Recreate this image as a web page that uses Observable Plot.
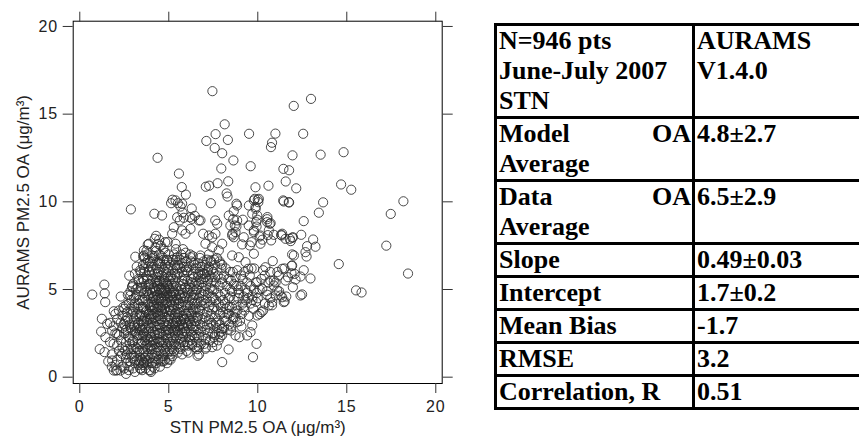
<!DOCTYPE html>
<html><head><meta charset="utf-8">
<script src="https://cdn.jsdelivr.net/npm/d3@7"></script>
<script src="https://cdn.jsdelivr.net/npm/@observablehq/plot@0.6"></script>
<style>
html,body{margin:0;padding:0;background:#fff;}
body{width:859px;height:440px;overflow:hidden;position:relative;}
#chart{position:absolute;left:0;top:0;}
#tbl{position:absolute;left:494px;top:23px;border-collapse:collapse;table-layout:fixed;width:430px;font-family:"Liberation Serif","Times New Roman",serif;font-weight:bold;font-size:26px;line-height:30px;color:#000;}
#tbl td{border:3px solid #000;padding:0 1px 0 2px;vertical-align:top;overflow:hidden;}
#tbl td.c1{text-align:justify;}
</style>
</head><body>
<div id="chart"></div>
<table id="tbl"><colgroup><col style="width:198px"><col style="width:232px"></colgroup><tbody id="tb"></tbody></table>
<script>
// ---- Scatter data: STN PM2.5 OA (x) vs AURAMS PM2.5 OA (y), µg/m³ ----
const outerPoints = [
[7.45,16.31],[12.99,15.87],[12.02,15.47],[8.14,14.42],[9.51,13.88],[7.63,13.86],[10.99,13.89],[12.55,13.88],[7.11,13.47],[8.32,13.53],
[7.58,13.07],[10.74,13.12],[10.8,13.37],[4.37,12.51],[8.0,12.77],[11.95,12.65],[13.53,12.69],[14.82,12.83],[8.63,12.36],[7.95,11.9],
[9.6,12.03],[5.57,11.61],[11.44,11.88],[11.76,11.8],[11.57,11.16],[5.73,10.84],[7.08,10.86],[7.27,10.92],[7.74,11.06],[8.34,11.17],
[9.87,10.83],[10.6,10.92],[12.16,10.77],[14.68,10.99],[15.25,10.69],[5.96,10.41],[8.25,10.48],[8.3,10.3],[7.36,9.92],[11.46,10.02],
[11.76,9.96],[13.67,9.97],[18.18,10.03],[2.87,9.57],[4.19,9.32],[4.62,9.22],[17.47,9.31],[13.43,9.38],[17.22,7.5],[14.55,6.45],
[18.44,5.91],[15.52,4.95],[15.83,4.83],[0.7,4.71],[1.38,5.28],[1.4,4.78],[1.43,4.28],[1.24,3.33],[1.2,2.6],[1.12,1.6],
[3.12,6.87],[2.78,5.79],[12.44,8.12],[13.11,7.85],[13.24,7.44],[12.77,7.47],[12.68,7.13],[12.74,6.88],[12.58,6.1],[12.96,5.63],
[12.49,4.72],[12.58,8.9],[11.94,7.95],[11.85,7.76],[11.34,8.08],[10.54,9.13],[10.72,8.78],[10.03,9.98],[9.88,9.6],[12.03,6.94],
[11.9,6.35],[12.07,5.89],[12.12,5.57],[11.51,4.32],[8.0,0.86],[9.73,1.14],[9.93,1.9],[8.36,1.58],[6.62,1.22],[2.6,0.19],[2.04,0.38]
];
const midPoints = [
[5.21,10.12],[5.38,10.08],[5.13,9.92],[5.51,9.92],[6.29,9.62],[5.66,9.73],[5.77,9.39],[5.84,9.09],[5.62,8.94],[6.18,9.12],
[6.46,9.2],[6.78,8.94],[6.93,8.18],[7.44,7.98],[7.61,8.94],[8.62,9.01],[8.65,9.47],[9.16,8.98],[8.8,8.59],[8.58,8.18],
[8.65,7.98],[9.78,10.08],[10.0,10.12],[9.87,9.7],[9.69,9.32],[9.97,8.98],[9.93,8.59],[9.78,8.37],[10.53,9.01],[10.67,8.75],
[10.56,8.1],[10.1,8.02],[10.9,8.12],[11.31,8.12],[11.8,7.89],[11.97,7.98],[10.75,7.8],[10.26,7.84],[9.65,7.7],[9.12,7.57],
[3.82,7.57],[4.21,7.89],[4.29,8.06],[4.46,7.84],[3.56,6.88],[3.82,6.66],[8.8,9.89],[9.83,10.17],[10.06,10.17],[11.43,10.08],
[11.74,9.98],[8.84,9.79],[9.5,9.79],[9.97,9.22],[9.91,8.84],[10.53,8.84],[10.62,8.37],[11.37,8.18],[11.56,7.89],[11.93,7.0],
[10.84,6.62],[11.93,6.37],[11.89,5.93],[12.4,5.74],[11.37,6.18],[11.18,5.8],[11.56,5.51],[10.43,6.27],[10.39,5.8],[10.71,5.51],
[9.97,5.42],[10.25,5.04],[10.53,4.7],[10.9,5.23],[11.09,4.94],[11.37,4.56],[11.97,5.13],[8.84,8.94],[8.71,8.65],[8.75,8.27],
[8.56,8.08],[8.37,9.22],[8.46,8.65],[9.49,8.65],[9.78,8.27],[9.21,7.98],[10.15,8.08],[10.15,7.61],[9.55,7.51],[9.78,7.04],
[9.31,6.56],[9.46,6.18],[8.93,6.84],[8.56,6.94],[7.72,8.75],[7.62,8.18],[7.25,8.08],[6.69,8.94],[6.31,9.03],[6.22,8.46],
[7.06,7.61],[7.44,7.41],[7.81,7.23],[8.0,7.61],[6.78,6.94],[7.34,6.66],[7.9,6.47],[6.22,6.84],[6.03,6.27],
[8.75,2.38],[8.97,2.28],[9.4,2.38],[9.59,2.57],[9.69,2.95],[8.5,2.66],[9.08,2.89],[8.84,3.14],[8.65,3.42],[8.37,3.62],
[9.97,3.52],[10.21,3.71],[10.62,4.09],[10.81,4.28],[11.46,4.28],[11.28,4.66],[11.0,4.66],[12.4,4.66],[7.44,1.71],[7.06,1.62],
[6.69,1.71],[6.31,1.81],[7.53,2.28],[7.81,2.47],[8.0,2.76],[3.6,6.94],[4.07,6.94],[4.94,7.7],[5.38,7.61],[3.88,7.61],
[3.6,7.23],[5.47,9.12],[5.75,8.37],[5.94,8.18],[5.28,8.55],[5.19,8.18],[5.75,9.89],[3.41,5.99],[3.31,5.51],[3.88,6.08],
[2.94,5.13],[2.85,4.66],[4.35,5.33],[4.72,5.51],[5.1,5.7],[4.53,6.47],[4.91,6.66],[5.47,6.84],[1.91,3.76],[1.54,3.04],
[1.44,2.28],[1.82,2.66],[2.1,2.47],[1.39,1.43],[1.82,0.95],[1.91,0.38],[2.29,0.38],[2.1,1.81],[2.38,1.33],[2.66,3.42],
[2.47,3.04],[2.85,2.85],[3.41,0.48],[3.97,0.38],[3.6,0.86]
];
const corePoints = [
[1.6,0.9],[1.7,2.0],[1.8,1.3],[1.9,2.9],[2.0,3.6],[2.1,1.0],[2.2,2.4],[2.3,3.1],[2.4,1.7],[1.7,3.1],[2.0,0.7],[2.2,1.5],[2.4,0.6],[2.3,2.1],[2.1,3.3],[1.9,1.9],[2.4,2.8],[2.2,3.8],[2.0,2.5],[1.8,0.6],[2.3,1.2],[2.4,3.5],[2.1,0.4],[2.45,4.0],[2.3,4.6],
[2.5,0.5],[2.6,1.1],[2.7,1.6],[2.8,2.2],[2.9,2.7],[2.55,3.2],[2.65,3.7],[2.75,4.2],[2.85,4.9],[2.95,5.2],[2.6,2.0],[2.7,2.6],[2.8,3.0],[2.9,1.3],[2.55,1.5],[2.65,0.8],[2.75,0.4],[2.85,0.9],[2.95,3.6],[2.5,2.5],[2.6,4.1],[2.7,3.3],[2.8,1.9],[2.9,4.4],[2.55,2.9],[2.65,1.3],[2.75,2.3],[2.85,3.9],[2.95,2.0],[2.5,3.9],[2.7,4.7],[2.8,0.6],[2.9,1.6],[2.6,2.7],[2.95,1.1],
[3.0,0.5],[3.1,0.9],[3.2,1.4],[3.3,1.9],[3.4,2.4],[3.05,2.9],[3.15,3.4],[3.25,3.9],[3.35,4.4],[3.45,4.9],[3.0,5.3],[3.1,5.9],[3.2,6.3],[3.3,5.6],[3.4,6.1],[3.05,1.2],[3.15,1.7],[3.25,2.2],[3.35,2.7],[3.45,3.2],[3.0,3.7],[3.1,4.2],[3.2,4.7],[3.3,0.7],[3.4,1.1],[3.05,4.0],[3.15,2.5],[3.25,3.0],[3.35,3.5],[3.45,4.0],[3.0,2.1],[3.1,2.6],[3.2,1.0],[3.3,3.1],[3.4,0.5],[3.05,3.3],[3.15,4.6],[3.25,5.1],[3.35,1.5],[3.45,1.9],[3.1,0.3],[3.2,2.8],[3.3,4.2],[3.4,2.8],[3.45,5.4],[3.0,1.6],[3.25,1.6],[3.35,0.9],[3.15,5.0],[3.4,3.6],[3.1,3.0],[3.45,0.8],[3.2,3.6],[3.3,2.4],[3.05,4.5],
[3.5,0.4],[3.6,0.8],[3.7,1.2],[3.8,1.6],[3.9,2.0],[3.55,2.4],[3.65,2.8],[3.75,3.2],[3.85,3.6],[3.95,4.0],[3.5,4.4],[3.6,4.8],[3.7,5.2],[3.8,5.6],[3.9,6.0],[3.55,6.4],[3.65,6.8],[3.75,7.2],[3.85,4.6],[3.95,5.0],[3.5,1.0],[3.6,1.4],[3.7,1.8],[3.8,2.2],[3.9,2.6],[3.55,3.0],[3.65,3.4],[3.75,3.8],[3.85,4.2],[3.95,1.1],[3.5,2.0],[3.6,2.5],[3.7,0.5],[3.8,0.9],[3.9,0.4],[3.55,1.6],[3.65,2.1],[3.75,2.6],[3.85,3.0],[3.95,3.4],[3.5,3.5],[3.6,3.9],[3.7,4.3],[3.8,4.9],[3.9,5.3],[3.55,5.6],[3.65,6.0],[3.75,1.0],[3.85,1.3],[3.95,1.7],[3.5,5.1],[3.6,5.5],[3.7,3.7],[3.8,3.3],[3.9,2.9],[3.55,4.0],[3.65,4.5],[3.75,4.9],[3.85,5.3],[3.95,2.3],[3.5,2.7],[3.6,3.2],[3.7,2.3],[3.8,1.9],[3.9,3.6],[3.55,0.7],[3.65,1.1],[3.75,5.8],[3.85,6.3],[3.95,6.6],[3.6,6.2],[3.9,4.7],[3.7,6.5],[3.8,7.0],
[4.0,0.3],[4.1,0.6],[4.2,0.9],[4.3,1.2],[4.4,1.5],[4.05,1.8],[4.15,2.1],[4.25,2.4],[4.35,2.7],[4.45,3.0],[4.0,3.3],[4.1,3.6],[4.2,3.9],[4.3,4.2],[4.4,4.5],[4.05,4.8],[4.15,5.1],[4.25,5.4],[4.35,5.7],[4.45,6.0],[4.0,6.3],[4.1,6.6],[4.2,6.9],[4.3,7.2],[4.4,7.6],[4.05,0.8],[4.15,1.1],[4.25,1.4],[4.35,1.7],[4.45,2.0],[4.0,2.3],[4.1,2.6],[4.2,2.9],[4.3,3.2],[4.4,3.5],[4.05,3.8],[4.15,4.1],[4.25,4.4],[4.35,4.7],[4.45,5.0],[4.0,5.3],[4.1,5.6],[4.2,5.9],[4.3,6.2],[4.4,6.5],[4.05,1.3],[4.15,1.6],[4.25,1.9],[4.35,2.2],[4.45,2.5],[4.0,2.8],[4.1,3.1],[4.2,3.4],[4.3,3.7],[4.4,4.0],[4.05,4.3],[4.15,4.6],[4.25,4.9],[4.35,5.2],[4.45,5.5],[4.0,4.0],[4.1,4.5],[4.2,0.5],[4.3,0.8],[4.4,1.0],[4.05,6.0],[4.15,6.8],[4.25,7.4],[4.35,6.6],[4.45,7.0],[4.0,1.6],[4.1,2.0],[4.2,2.5],[4.3,2.9],[4.4,3.3],[4.05,3.5],[4.15,4.0],[4.25,4.6],[4.35,3.9],[4.45,4.4],[4.2,5.0],[4.3,5.5],[4.4,5.9],
[4.5,0.6],[4.6,0.9],[4.7,1.2],[4.8,1.5],[4.9,1.8],[4.55,2.1],[4.65,2.4],[4.75,2.7],[4.85,3.0],[4.95,3.3],[4.5,3.6],[4.6,3.9],[4.7,4.2],[4.8,4.5],[4.9,4.8],[4.55,5.1],[4.65,5.4],[4.75,5.7],[4.85,6.0],[4.95,6.3],[4.5,6.6],[4.6,6.9],[4.7,7.3],[4.8,7.7],[4.55,1.0],[4.65,1.3],[4.75,1.6],[4.85,1.9],[4.95,2.2],[4.5,2.5],[4.6,2.8],[4.7,3.1],[4.8,3.4],[4.9,3.7],[4.55,4.0],[4.65,4.3],[4.75,4.6],[4.85,4.9],[4.95,5.2],[4.5,5.5],[4.6,5.8],[4.7,6.1],[4.8,6.4],[4.9,6.7],[4.55,1.5],[4.65,1.8],[4.75,2.1],[4.85,2.4],[4.95,2.7],[4.5,3.0],[4.6,3.3],[4.7,3.6],[4.8,3.9],[4.9,4.2],[4.55,4.5],[4.65,4.8],[4.75,5.1],[4.85,5.4],[4.95,5.7],[4.5,4.8],[4.6,5.0],[4.7,0.9],[4.8,1.0],[4.9,0.8],[4.55,3.3],[4.65,2.0],[4.75,3.9],[4.85,4.3],[4.95,4.6],[4.5,2.0],[4.6,6.3],[4.7,6.7],[4.8,7.1],[4.9,2.9],[4.55,7.5],[4.65,3.7],[4.75,4.9],[4.85,2.6],[4.95,1.4],[4.6,4.5],[4.8,5.0],[4.9,5.3],
[5.0,1.0],[5.1,1.3],[5.2,1.6],[5.3,1.9],[5.4,2.2],[5.05,2.5],[5.15,2.8],[5.25,3.1],[5.35,3.4],[5.45,3.7],[5.0,4.0],[5.1,4.3],[5.2,4.6],[5.3,4.9],[5.4,5.2],[5.05,5.5],[5.15,5.8],[5.25,6.1],[5.35,6.4],[5.45,6.7],[5.0,7.0],[5.05,1.6],[5.15,1.9],[5.25,2.2],[5.35,2.5],[5.45,2.8],[5.0,3.1],[5.1,3.4],[5.2,3.7],[5.3,4.0],[5.4,4.3],[5.05,4.6],[5.15,4.9],[5.25,5.2],[5.35,5.5],[5.45,5.8],[5.0,6.1],[5.1,6.4],[5.2,6.7],[5.3,7.0],[5.4,7.3],[5.05,2.0],[5.15,2.3],[5.25,2.6],[5.35,2.9],[5.45,3.2],[5.0,3.5],[5.1,3.8],[5.2,4.1],[5.3,4.4],[5.4,4.7],[5.05,5.0],[5.15,5.3],[5.25,5.6],[5.35,5.9],[5.45,6.2],[5.0,2.7],[5.1,1.0],[5.2,1.2],[5.3,1.5],[5.4,1.8],[5.05,3.8],[5.15,4.4],[5.25,4.8],[5.35,3.6],[5.45,4.5],[5.0,5.1],[5.2,3.0],[5.3,2.7],[5.4,3.1],[5.1,4.7],[5.25,6.7],
[5.5,1.4],[5.6,1.7],[5.7,2.0],[5.8,2.3],[5.9,2.6],[5.55,2.9],[5.65,3.2],[5.75,3.5],[5.85,3.8],[5.95,4.1],[5.5,4.4],[5.6,4.7],[5.7,5.0],[5.8,5.3],[5.9,5.6],[5.55,5.9],[5.65,6.2],[5.75,6.5],[5.85,6.8],[5.95,7.1],[5.55,1.9],[5.65,2.2],[5.75,2.5],[5.85,2.8],[5.95,3.1],[5.5,3.4],[5.6,3.7],[5.7,4.0],[5.8,4.3],[5.9,4.6],[5.55,4.9],[5.65,5.2],[5.75,5.5],[5.85,5.8],[5.95,6.1],[5.5,6.4],[5.6,6.7],[5.7,7.0],[5.8,7.3],[5.9,1.8],[5.55,2.4],[5.65,2.7],[5.75,3.0],[5.85,3.3],[5.95,3.6],[5.5,3.9],[5.6,4.2],[5.7,4.5],[5.8,4.8],[5.9,5.1],[5.55,3.6],[5.65,1.6],[5.75,1.3],[5.85,2.0],[5.95,2.3],[5.5,2.6],[5.6,3.0],[5.7,3.3],[5.8,2.9],[5.9,3.3],[5.55,4.2],[5.65,4.6],[5.75,6.0],[5.85,6.3],[5.95,5.1],
[6.0,1.5],[6.1,1.8],[6.2,2.1],[6.3,2.4],[6.4,2.7],[6.05,3.0],[6.15,3.3],[6.25,3.6],[6.35,3.9],[6.45,4.2],[6.0,4.5],[6.1,4.8],[6.2,5.1],[6.3,5.4],[6.4,5.7],[6.05,6.0],[6.15,6.3],[6.25,6.6],[6.35,6.9],[6.05,2.0],[6.15,2.3],[6.25,2.6],[6.35,2.9],[6.45,3.2],[6.0,3.5],[6.1,3.8],[6.2,4.1],[6.3,4.4],[6.4,4.7],[6.05,5.0],[6.15,5.3],[6.25,5.6],[6.35,5.9],[6.45,6.2],[6.0,2.6],[6.1,2.9],[6.2,3.2],[6.3,3.5],[6.4,3.8],[6.05,4.1],[6.15,4.4],[6.25,4.7],[6.35,5.0],[6.45,5.3],[6.0,6.6],[6.2,7.0],[6.4,6.5],[6.1,1.4],[6.3,1.9],[6.45,2.3],[6.25,3.0],[6.15,3.7],[6.35,4.5],[6.05,5.5],
[6.5,1.7],[6.6,2.0],[6.7,2.3],[6.8,2.6],[6.9,2.9],[6.55,3.2],[6.65,3.5],[6.75,3.8],[6.85,4.1],[6.95,4.4],[6.5,4.7],[6.6,5.0],[6.7,5.3],[6.8,5.6],[6.9,5.9],[6.55,6.2],[6.65,6.5],[6.75,6.8],[6.55,2.4],[6.65,2.7],[6.75,3.0],[6.85,3.3],[6.95,3.6],[6.5,3.9],[6.6,4.2],[6.7,4.5],[6.8,4.8],[6.9,5.1],[6.55,5.4],[6.65,5.7],[6.75,6.0],[6.85,6.3],[6.95,6.6],[6.5,2.9],[6.6,3.4],[6.7,3.9],[6.8,4.3],[6.9,4.7],[6.55,5.0],[6.65,5.9],[6.75,6.3],[6.85,5.4],[6.95,5.6],[6.6,1.6],[6.8,1.9],[6.9,2.3],[6.7,1.3],
[7.0,1.9],[7.1,2.2],[7.2,2.5],[7.3,2.8],[7.4,3.1],[7.05,3.4],[7.15,3.7],[7.25,4.0],[7.35,4.3],[7.45,4.6],[7.0,4.9],[7.1,5.2],[7.2,5.5],[7.3,5.8],[7.4,6.1],[7.05,6.4],[7.15,6.7],[7.25,7.0],[7.05,2.7],[7.15,3.0],[7.25,3.3],[7.35,3.6],[7.45,3.9],[7.0,4.2],[7.1,4.5],[7.2,4.8],[7.3,5.1],[7.4,5.4],[7.05,5.7],[7.15,6.0],[7.25,6.3],[7.35,6.6],[7.45,5.0],[7.0,5.9],[7.2,6.1],[7.4,5.7],[7.1,1.7],[7.3,2.1],[7.45,2.5],
[7.5,2.0],[7.6,2.4],[7.7,2.8],[7.8,3.2],[7.9,3.6],[7.55,4.0],[7.65,4.4],[7.75,4.8],[7.85,5.2],[7.95,5.6],[7.5,6.0],[7.6,6.4],[7.7,6.8],[7.85,6.6],[7.95,6.2],[7.5,3.0],[7.6,3.4],[7.7,3.8],[7.8,4.2],[7.9,4.6],[7.55,5.0],[7.65,5.4],[7.75,5.8],[7.85,3.0],[7.95,2.6],[7.5,4.5],[7.6,5.7],[7.7,1.8],[7.8,2.1],[7.9,2.3],[7.55,6.7],[7.95,4.0],[7.65,3.1],
[8.0,2.4],[8.1,2.8],[8.2,3.2],[8.3,3.6],[8.4,4.0],[8.05,4.4],[8.15,4.8],[8.25,5.2],[8.35,5.6],[8.45,6.0],[8.0,6.4],[8.15,3.4],[8.25,3.9],[8.35,4.5],[8.45,5.0],[8.0,5.4],[8.1,5.8],[8.2,6.2],[8.3,2.7],[8.4,3.0],[8.05,3.7],[8.15,4.2],[8.45,4.6],
[8.5,2.9],[8.6,3.3],[8.7,3.7],[8.8,4.1],[8.9,4.5],[8.55,4.9],[8.65,5.3],[8.75,5.7],[8.85,6.1],[8.9,5.0],[8.55,4.0],[8.65,4.4],[8.75,3.4],[8.85,3.8],[8.95,4.8],[8.5,5.5],[8.6,6.0],[8.8,5.2],
[9.0,3.2],[9.1,3.6],[9.2,4.0],[9.3,4.4],[9.4,4.8],[9.05,5.2],[9.15,5.6],[9.25,6.0],[9.2,4.6],[9.3,5.0],[9.4,5.4],[9.05,5.8],[9.15,4.2],[9.25,3.8],[9.45,4.5],
[9.5,3.5],[9.6,4.2],[9.7,4.6],[9.8,5.0],[9.9,5.4],[9.55,5.8],[9.65,6.2],[9.6,5.2],[9.7,4.4],[9.8,6.2],[9.9,4.3],[9.75,3.9],[9.95,4.8],
[10.0,4.5],[10.1,5.0],[10.2,5.6],[10.3,6.1],[10.5,4.9],[10.6,5.4],[10.7,6.0],[10.4,4.2],[10.8,4.1],[10.1,3.6],[10.3,3.8],[10.7,4.5],[10.9,5.5],
[11.1,6.0],[11.5,6.2],[11.7,5.7],[11.2,4.9],[11.6,4.6],[11.0,5.4]
];
const xTicks = [0, 5, 10, 15, 20];
const yTicks = [0, 5, 10, 15, 20];
const xTitle = "STN PM2.5 OA (μg/m³)";
const yTitle = "AURAMS PM2.5 OA (μg/m³)";

// ---- Statistics table ----
const tableLabels = ["N=946 pts<br>June-July 2007<br>STN", "Model OA Average", "Data OA Average", "Slope", "Intercept", "Mean Bias", "RMSE", "Correlation, R"];
const tableValues = ["AURAMS<br>V1.4.0", "4.8±2.7", "6.5±2.9", "0.49±0.03", "1.7±0.2", "-1.7", "3.2", "0.51"];

const points = [...outerPoints, ...midPoints, ...corePoints];

const plot = Plot.plot({
  width: 470,
  height: 440,
  marginLeft: 72.7,
  marginRight: 28.3,
  marginTop: 20.7,
  marginBottom: 57,
  style: {fontFamily: "'Liberation Sans', Arial, sans-serif", fontSize: "16px", color: "#222", background: "white", overflow: "visible"},
  x: {domain: [-0.37, 20.36]},
  y: {domain: [-0.36, 20.30]},
  marks: [
    Plot.dot(points, {x: d => d[0], y: d => d[1], r: 4.6, stroke: "#2a2a2a", strokeWidth: 0.85, fill: "none"}),
    Plot.frame({stroke: "#000", strokeWidth: 1}),
    Plot.axisX({ticks: xTicks, tickSize: 10, tickPadding: 7, stroke: "#333", fontSize: 16, label: xTitle, labelAnchor: "center", labelArrow: "none", labelOffset: 49.5}),
    Plot.axisX({anchor: "top", ticks: xTicks, tickSize: 10, stroke: "#333", tickFormat: () => "", label: null}),
    Plot.axisY({ticks: yTicks, tickSize: 10, tickPadding: 5, stroke: "#333", fontSize: 16, label: yTitle, labelAnchor: "center", labelArrow: "none", labelOffset: 56}),
    Plot.axisY({anchor: "right", ticks: yTicks, tickSize: 10, stroke: "#333", tickFormat: () => "", label: null})
  ]
});
plot.querySelectorAll("text").forEach(t => {
  t.style.fontFamily = "'Liberation Sans', Arial, sans-serif";
  t.style.fontSize = "16px";
  t.style.letterSpacing = "1px";
});
plot.querySelectorAll('[aria-label="x-axis label"] text, [aria-label="y-axis label"] text').forEach(t => {
  t.style.fontSize = "17px";
  t.style.letterSpacing = "0px";
});
document.getElementById("chart").appendChild(plot);

const tb = document.getElementById("tb");
tableLabels.forEach((lab, i) => {
  const tr = document.createElement("tr");
  const a = document.createElement("td"); a.className = "c1"; a.innerHTML = lab;
  const b = document.createElement("td"); b.className = "c2"; b.innerHTML = tableValues[i];
  tr.appendChild(a); tr.appendChild(b); tb.appendChild(tr);
});
</script>
</body></html>
